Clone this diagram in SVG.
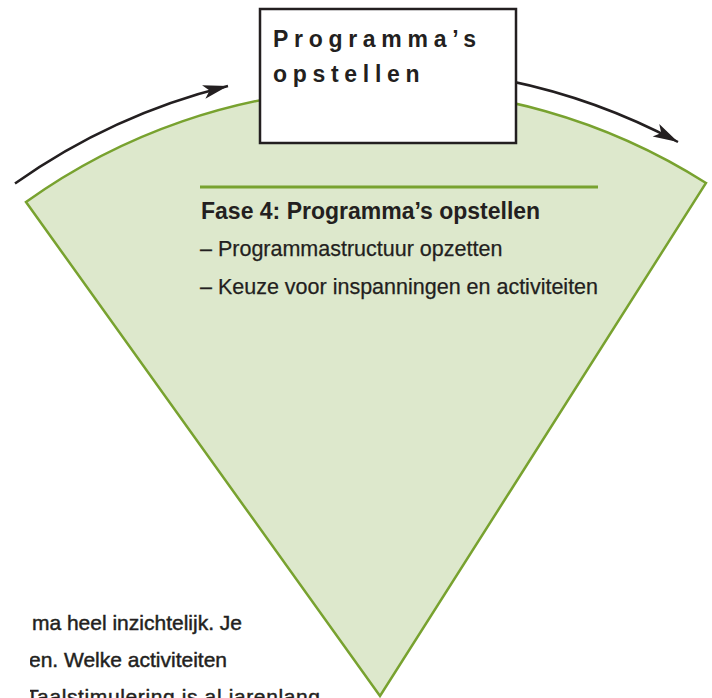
<svg xmlns="http://www.w3.org/2000/svg" width="712" height="698" viewBox="0 0 712 698">
  <style>
    .ink { fill: #231f20; font-family: "Liberation Sans", Arial, sans-serif; }
    .title { font-size: 23px; font-weight: bold; letter-spacing: 5.7px; }
    .head { font-size: 23px; font-weight: bold; }
    .body { font-size: 21.5px; stroke: #231f20; stroke-width: 0.25; }
    .para { font-size: 21px; stroke: #231f20; stroke-width: 0.45; }
    .arc { fill: none; stroke: #231f20; stroke-width: 2.5; marker-end: url(#arrow); }
  </style>
  <defs>
    <marker id="arrow" markerUnits="userSpaceOnUse" markerWidth="30" markerHeight="20" viewBox="-26 -10 30 20" refX="0" refY="0" orient="auto" overflow="visible">
      <path d="M0,0 L-25,-7 L-19,0 L-25,7 Z" fill="#231f20"/>
    </marker>
    <clipPath id="paraClip">
      <rect x="30" y="560" width="682" height="138"/>
    </clipPath>
  </defs>

  <rect width="712" height="698" fill="#ffffff"/>

  <!-- phase wedge: sector of a circle centred on the bottom point -->
  <g id="phase-wedge">
    <path d="M26,202 A608,608 0 0 1 706,183 L380,696 Z" fill="#dde8cc" stroke="#78a22f" stroke-width="2.5" stroke-linejoin="miter"/>
    <line x1="200" y1="187" x2="598" y2="187" stroke="#78a22f" stroke-width="3"/>
    <text class="ink head" x="201" y="219">Fase 4: Programma’s opstellen</text>
    <text class="ink body" x="200" y="256">– Programmastructuur opzetten</text>
    <text class="ink body" x="200" y="294">– Keuze voor inspanningen en activiteiten</text>
  </g>

  <!-- flow arrows, concentric with the wedge arc -->
  <g id="connectors">
    <path class="arc" d="M15,183.5 A629,629 0 0 1 228,86"/>
    <path class="arc" d="M505,80 A629,629 0 0 1 678,142"/>
  </g>

  <!-- step box -->
  <g id="step-box">
    <rect x="260" y="9" width="256" height="134" fill="#ffffff" stroke="#231f20" stroke-width="2.5"/>
    <text class="ink title" x="273" y="47">Programma’s</text>
    <text class="ink title" x="273" y="82">opstellen</text>
  </g>

  <!-- running paragraph, cut at the left -->
  <g id="paragraph" clip-path="url(#paraClip)">
    <text class="ink para" x="242" y="630" text-anchor="end">ma heel inzichtelijk. Je</text>
    <text class="ink para" x="227" y="667" text-anchor="end">en. Welke activiteiten</text>
    <text class="ink para" x="26" y="704" textLength="294" lengthAdjust="spacing">Taalstimulering is al jarenlang</text>
  </g>
</svg>
